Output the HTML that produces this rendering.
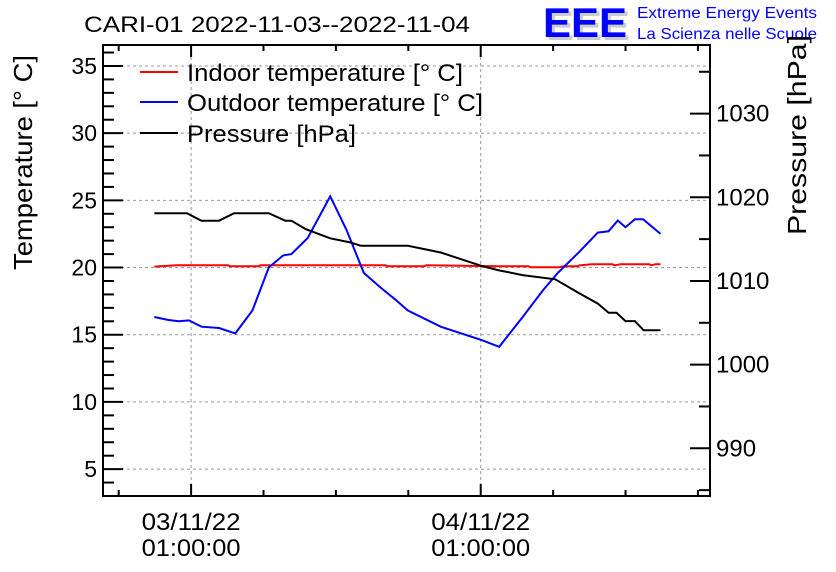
<!DOCTYPE html>
<html><head><meta charset="utf-8"><style>
html,body{margin:0;padding:0;background:#fff;}
svg{display:block;font-family:"Liberation Sans",sans-serif;}
</style></head><body>
<svg id="chart" width="836" height="572" viewBox="0 0 836 572">
<text x="84" y="32" font-size="22" textLength="386" lengthAdjust="spacingAndGlyphs">CARI-01 2022-11-03--2022-11-04</text>
<g>
<text x="546" y="40" font-size="42" font-weight="bold" fill="#ccc" textLength="84" lengthAdjust="spacingAndGlyphs">EEE</text>
<text x="543" y="37" font-size="42" font-weight="bold" fill="#0000ff" textLength="84" lengthAdjust="spacingAndGlyphs">EEE</text>
<text x="637" y="18" font-size="16" fill="#0000ff" textLength="180" lengthAdjust="spacingAndGlyphs">Extreme Energy Events</text>
<text x="637" y="39" font-size="16" fill="#0000ff" textLength="180" lengthAdjust="spacingAndGlyphs">La Scienza nelle Scuole</text>
</g>
<g id="grid"></g>
<g id="series"></g>
<g id="axes"></g>
<g font-size="24">
<line x1="140" y1="72" x2="178" y2="72" stroke="#ff0000" stroke-width="2"/>
<text x="187" y="81" textLength="276" lengthAdjust="spacingAndGlyphs">Indoor temperature [° C]</text>
<line x1="140" y1="102" x2="178" y2="102" stroke="#0000ff" stroke-width="2"/>
<text x="187" y="111" textLength="296" lengthAdjust="spacingAndGlyphs">Outdoor temperature [° C]</text>
<line x1="140" y1="133" x2="178" y2="133" stroke="#000" stroke-width="2"/>
<text x="187" y="142" textLength="169" lengthAdjust="spacingAndGlyphs">Pressure [hPa]</text>
</g>
<text transform="translate(32,55) rotate(-90)" text-anchor="end" font-size="26" textLength="215" lengthAdjust="spacingAndGlyphs">Temperature [° C]</text>
<text transform="translate(806,35) rotate(-90)" text-anchor="end" font-size="26" textLength="200" lengthAdjust="spacingAndGlyphs">Pressure [hPa]</text>
</svg>
<script>
// hours relative to 03/11/22 00:00
const outdoorHours=[-2.05,-0.86,-0.02,0.83,1.85,3.31,4.66,6.08,7.44,8.63,9.31,10.66,12.53,13.88,15.31,16.59,17.95,18.97,21.68,25.07,26.53,28.46,30.15,31.34,33.2,34.7,35.6,36.36,37.0,37.78,38.46,39.9];
const outdoorTemps=[16.32,16.1,16.0,16.07,15.6,15.5,15.1,16.8,20.0,20.9,21.0,22.2,25.3,22.8,19.6,18.6,17.6,16.8,15.6,14.6,14.1,16.3,18.3,19.55,21.2,22.6,22.7,23.5,23.0,23.6,23.6,22.5];
const pressureHours=[-2.05,0.66,1.85,3.31,4.56,7.44,8.8,9.31,10.49,12.53,14.22,15.07,18.97,21.68,25.07,26.42,28.46,31.17,33.2,34.7,35.6,36.25,37.0,37.78,38.5,39.9];
const pressureVals=[1018.1,1018.1,1017.2,1017.2,1018.1,1018.1,1017.2,1017.2,1016.2,1015.1,1014.6,1014.2,1014.2,1013.4,1011.8,1011.3,1010.7,1010.2,1008.5,1007.3,1006.2,1006.2,1005.2,1005.2,1004.1,1004.1];
const indoorHours=[-2.05,-0.19,4.05,4.22,6.59,6.76,17.1,17.27,20.32,20.49,26.42,28.97,29.14,31.5,31.85,33.03,33.2,34.2,35.9,36.1,36.6,38.97,39.1,39.5,39.9];
const indoorTemps=[20.07,20.17,20.17,20.1,20.1,20.17,20.17,20.1,20.1,20.17,20.1,20.1,20.02,20.02,20.1,20.1,20.17,20.25,20.25,20.17,20.25,20.25,20.17,20.25,20.25];
const tempTicks=[5,10,15,20,25,30,35];
const pressTicks=[990,1000,1010,1020,1030];
const xLabels=[["03/11/22","01:00:00",1],["04/11/22","01:00:00",25]];

const L=103,R=710,T=45,B=496;
const H0=-6.3,H1=44.0,T0=3,T1=36.56,P0=984.3,P1=1038.2;
const xs=h=>L+(h-H0)/(H1-H0)*(R-L);
const yT=v=>B-(v-T0)/(T1-T0)*(B-T);
const yP=v=>B-(v-P0)/(P1-P0)*(B-T);
const NS="http://www.w3.org/2000/svg";
function mk(tag,attrs,parent,txt){const e=document.createElementNS(NS,tag);for(const k in attrs)e.setAttribute(k,attrs[k]);if(txt!==undefined)e.textContent=txt;parent.appendChild(e);return e;}
const grid=document.getElementById('grid'),ser=document.getElementById('series'),ax=document.getElementById('axes');
tempTicks.forEach(v=>{const g=mk('line',{x1:L,x2:R,y1:yT(v),y2:yT(v),stroke:'#999','stroke-dasharray':'3,3','stroke-width':1},grid);

});
xLabels.forEach(l=>{const g=mk('line',{x1:xs(l[2]),x2:xs(l[2]),y1:T,y2:B,stroke:'#999','stroke-dasharray':'3,3','stroke-width':1},grid);

});
function line(hs,vs,yf,color,name){const pts=hs.map((h,i)=>xs(h).toFixed(1)+','+yf(vs[i]).toFixed(1)).join(' ');
const p=mk('polyline',{points:pts,fill:'none',stroke:color,'stroke-width':2},ser);

}
line(indoorHours,indoorTemps,yT,'#ff0000','indoor-temperature-line');
line(outdoorHours,outdoorTemps,yT,'#0000ff','outdoor-temperature-line');
line(pressureHours,pressureVals,yP,'#000000','pressure-line');
const fr=mk('rect',{x:L,y:T,width:R-L,height:B-T,fill:'none',stroke:'#000','stroke-width':2},ax);


for(let v=4;v<=36;v++){const maj=v%5===0;mk('line',{x1:L,x2:L+(maj?20:11),y1:yT(v),y2:yT(v),stroke:'#000','stroke-width':2},ax);}
tempTicks.forEach(v=>{const t=mk('text',{x:97,y:yT(v)+8,'text-anchor':'end','font-size':23},ax,String(v));

});
for(let v=985;v<=1035;v+=5){const maj=v%10===0;mk('line',{x1:R,x2:R-(maj?20:11),y1:yP(v),y2:yP(v),stroke:'#000','stroke-width':2},ax);}
pressTicks.forEach(v=>{const t=mk('text',{x:716,y:yP(v)+8,'font-size':24},ax,String(v));

});
for(let h=-5;h<=43;h+=6){const maj=(h-1)%24===0;const len=maj?12:6;
mk('line',{x1:xs(h),x2:xs(h),y1:B,y2:B-len,stroke:'#000','stroke-width':2},ax);
mk('line',{x1:xs(h),x2:xs(h),y1:T,y2:T+len,stroke:'#000','stroke-width':2},ax);}
xLabels.forEach(l=>{const a=mk('text',{x:xs(l[2]),y:530,'text-anchor':'middle','font-size':24,textLength:99,lengthAdjust:'spacingAndGlyphs'},ax,l[0]);


const b=mk('text',{x:xs(l[2]),y:556,'text-anchor':'middle','font-size':24,textLength:99,lengthAdjust:'spacingAndGlyphs'},ax,l[1]);

});
</script>
</body></html>
